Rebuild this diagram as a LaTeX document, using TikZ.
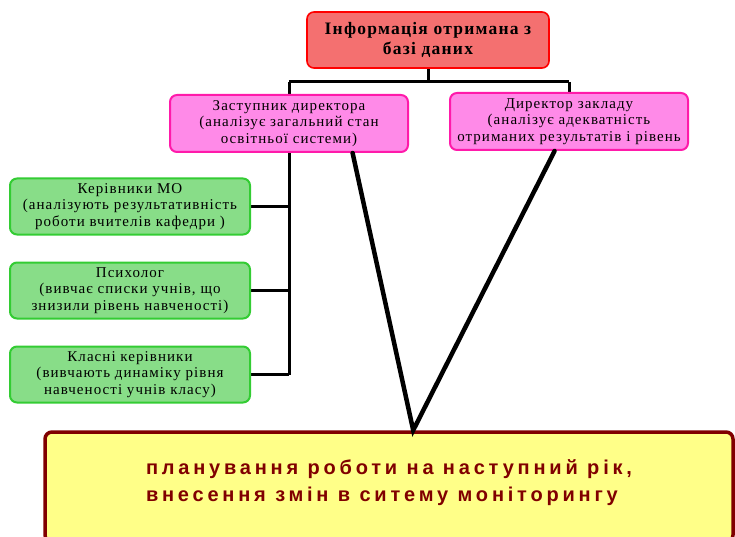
\documentclass[tikz,border=0pt]{standalone}
\usepackage{fontspec}
\setmainfont{Liberation Serif}[LetterSpace=7]
\newfontfamily\boldwide[LetterSpace=19]{Liberation Sans Bold}
\usetikzlibrary{backgrounds,calc}
\definecolor{redfill}{HTML}{F47070}
\definecolor{redline}{HTML}{FF0000}
\definecolor{magfill}{HTML}{FF8AE8}
\definecolor{magline}{HTML}{FF1AAA}
\definecolor{grnfill}{HTML}{88DD88}
\definecolor{grnline}{HTML}{33CC33}
\definecolor{yelfill}{HTML}{FFFF88}
\definecolor{maroon}{HTML}{800000}
\tikzset{
  box/.style={draw, rounded corners=7pt, align=center, inner sep=1pt, font=\fontsize{15}{16.5}\selectfont},
  redbox/.style={box, fill=redfill, draw=redline, line width=1.6pt, minimum width=242pt, minimum height=56pt, font=\fontsize{17.5}{20}\selectfont\bfseries},
  magbox/.style={box, fill=magfill, draw=magline, line width=2pt, minimum width=238pt, minimum height=57pt},
  grnbox/.style={box, fill=grnfill, draw=grnline, line width=2pt, minimum width=240pt, minimum height=56pt},
  yelbox/.style={box, fill=yelfill, draw=maroon, line width=3.5pt, minimum width=688pt, minimum height=110pt, align=left, text=maroon, font=\fontsize{20}{27}\boldwide},
  conn/.style={draw=black, line width=3pt},
  vline/.style={draw=black, line width=4.5pt, line cap=round}
}
\begin{document}
\begin{tikzpicture}[x=1pt,y=-1pt]
\useasboundingbox (0,0) rectangle (735,537);
\node[redbox] (info) at (428,40) {Інформація отримана з\\базі даних};
\node[magbox] (zast) at (289,123.5) {Заступник директора\\(аналізує загальний стан\\освітньої системи)};
\node[magbox] (dir) at (569,121.5) {Директор закладу\\(аналізує адекватність\\отриманих результатів і рівень};
\node[grnbox] (mo) at (130,206.5) {Керівники МО\\(аналізують результативність\\роботи вчителів кафедри )};
\node[grnbox] (psy) at (130,290.5) {Психолог\\(вивчає списки учнів, що\\знизили рівень навченості)};
\node[grnbox] (kl) at (130,374.5) {Класні керівники\\(вивчають динаміку рівня\\навченості учнів класу)};
\node[yelbox] (plan) at (389,487) {планування роботи на наступний рік,\\внесення змін в ситему моніторингу\\[-14pt]};
\coordinate (hub) at (428,82);
\coordinate (hl) at (289,82);
\coordinate (hr) at (569,82);
\coordinate (vb) at (289,374.5);
\coordinate (tip) at ($(plan.north west)!0.535!(plan.north east)$);
\begin{pgfonlayer}{background}
\draw[conn] (info.south) -- (hub);
\draw[conn] (hl) -- (hr);
\draw[conn] (hl) -- (vb);
\draw[conn] (hr) -- (dir.north);
\draw[conn] (mo.east) -- (mo.east -| vb);
\draw[conn] (psy.east) -- (psy.east -| vb);
\draw[conn] (kl.east) -- (vb);
\end{pgfonlayer}
\draw[vline] ($(zast.south west)!0.765!(zast.south east)$) -- (tip) -- ($(dir.south west)!0.44!(dir.south east)$);
\end{tikzpicture}
\end{document}
